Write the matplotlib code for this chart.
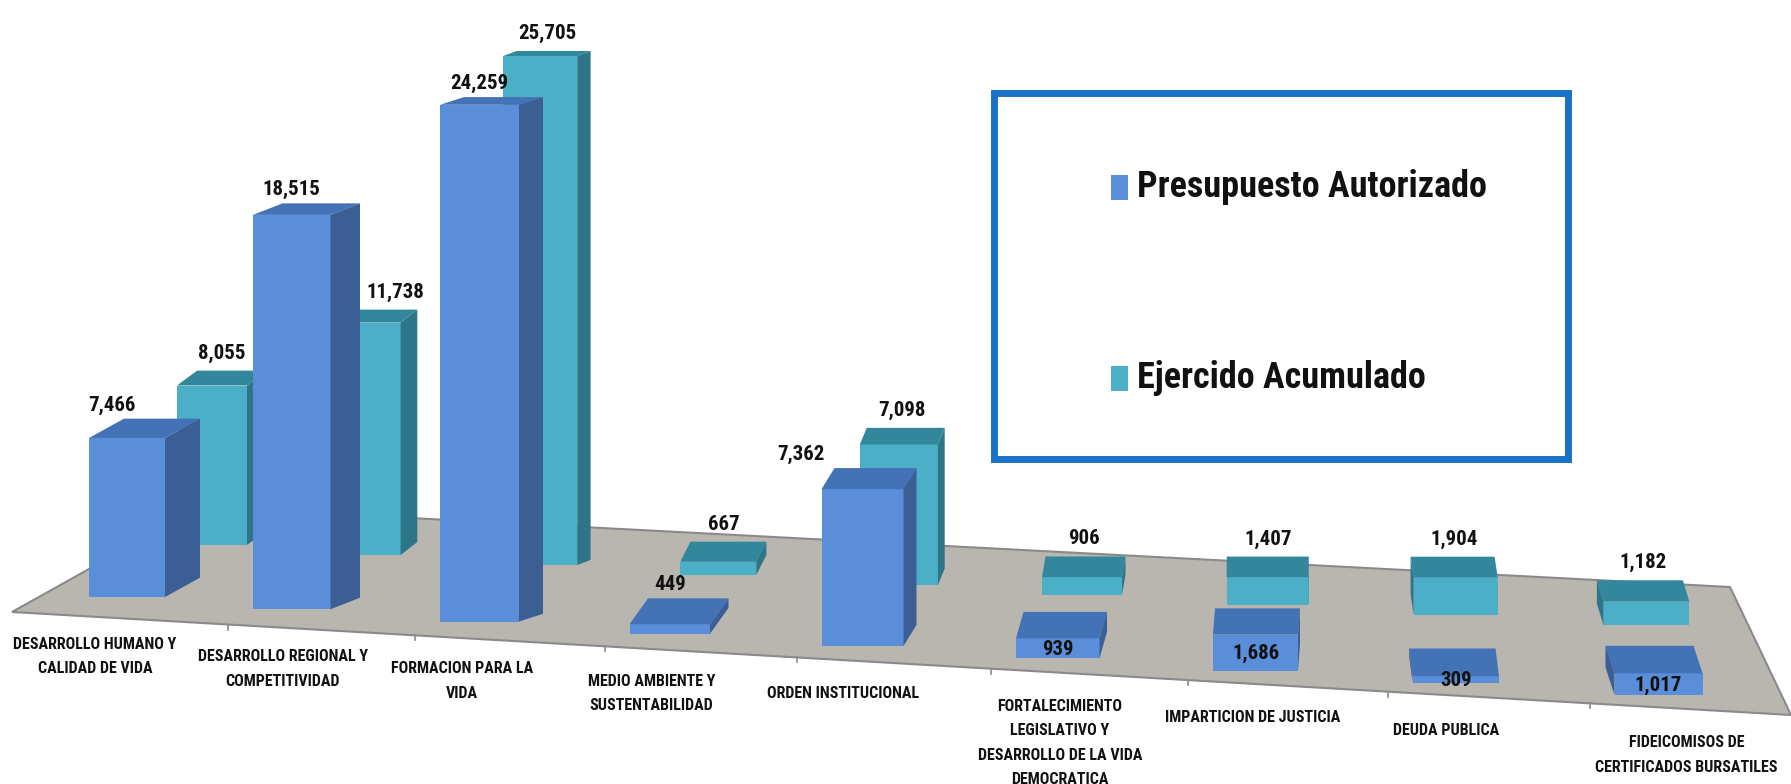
import matplotlib

matplotlib.use("Agg")
import matplotlib.pyplot as plt
import numpy as np
from matplotlib import font_manager
from matplotlib.patches import Polygon, Rectangle

categories = [
    "DESARROLLO HUMANO Y\nCALIDAD DE VIDA",
    "DESARROLLO REGIONAL Y\nCOMPETITIVIDAD",
    "FORMACION PARA LA\nVIDA",
    "MEDIO AMBIENTE Y\nSUSTENTABILIDAD",
    "ORDEN INSTITUCIONAL",
    "FORTALECIMIENTO\nLEGISLATIVO Y\nDESARROLLO DE LA VIDA\nDEMOCRATICA",
    "IMPARTICION DE JUSTICIA",
    "DEUDA PUBLICA",
    "FIDEICOMISOS DE\nCERTIFICADOS BURSATILES",
]
presupuesto = [7466, 18515, 24259, 449, 7362, 939, 1686, 309, 1017]
ejercido = [8055, 11738, 25705, 667, 7098, 906, 1407, 1904, 1182]
series_names = ["Presupuesto Autorizado", "Ejercido Acumulado"]

W, H = 1791, 784


def pick_font(candidates):
    names = {f.name for f in font_manager.fontManager.ttflist}
    for c in candidates:
        if c in names:
            return c
    return "DejaVu Sans"


FONT = pick_font(["Liberation Sans Narrow", "Roboto Condensed", "DejaVu Sans Condensed", "Liberation Sans"])

# fake 3D layout, screen pixels with y pointing down
FRONT = dict(base0=597, base_step=12.25, scale=0.0213, width0=76, width_step=1.5,
             side0=35, side_step=-5.5, depth_k=1.0,
             colors=("#5a8ed8", "#4472b6", "#3b5f95"))
BACK = dict(base0=545, base_step=10, scale=0.0198, width0=70, width_step=2.0,
            side0=20, side_step=-3.3, depth_k=0.85,
            colors=("#4bafc8", "#32879c", "#2e7587"))


def front_left(n):
    # perspective: category spacing widens slightly to the right
    steps = np.r_[0, 164, 187 + 2.5 * np.arange(n - 2)]
    return 89 + np.cumsum(steps)


def draw_series(ax, values, st, x_left, z, inside_from=None, gap=6, side_in_label=True, nudge=None):
    nudge = nudge or {}
    idx = np.arange(len(values))
    widths = st["width0"] + st["width_step"] * idx
    bases = st["base0"] + st["base_step"] * idx
    heights = np.asarray(values) * st["scale"]
    front_c, top_c, side_c = st["colors"]
    ax.bar(x_left, -heights, bottom=bases, width=widths, align="edge",
           color=front_c, linewidth=0, zorder=z)
    tops = bases - heights
    for i, v in enumerate(values):
        xl, xr = x_left[i], x_left[i] + widths[i]
        yt, yb = tops[i], bases[i]
        dy = st["depth_k"] * (4 + 0.035 * yt)
        dx = st["side0"] + st["side_step"] * i
        ax.add_patch(Polygon([(xl, yt), (xl + dx, yt - dy), (xr + dx, yt - dy), (xr, yt)],
                             closed=True, fc=top_c, lw=0, zorder=z))
        sx = xr if dx > 0 else xl
        ax.add_patch(Polygon([(sx, yt), (sx + dx, yt - dy), (sx + dx, yb - dy), (sx, yb)],
                             closed=True, fc=side_c, lw=0, zorder=z))
        txt = f"{v:,}"
        if inside_from is not None and i >= inside_from:
            ax.text((xl + xr) / 2, (yt + yb) / 2 + 1, txt, ha="center", va="center",
                    fontsize=15, fontweight="bold", family=FONT, color="#111111", zorder=10)
        else:
            lx = (xl + xr) / 2 + (dx / 2 if side_in_label else 0) + nudge.get(i, 0)
            ax.text(lx, yt - dy - gap, txt, ha="center", va="bottom",
                    fontsize=15, fontweight="bold", family=FONT, color="#111111", zorder=10)
    return widths


fig = plt.figure(figsize=(W / 100, H / 100), dpi=100)
ax = fig.add_axes([0, 0, 1, 1])
ax.set_xlim(0, W)
ax.set_ylim(H, 0)
ax.axis("off")

# floor
floor = [(12, 612), (200, 507), (1730, 587), (1791, 715)]
ax.add_patch(Polygon(floor, closed=True, fc="#b9b6b0", ec="#8a8a8a", lw=1.5, zorder=1))

n = len(categories)
idx = np.arange(n)
blue_x = front_left(n)
teal_x = blue_x + (88 - 12.4 * idx)

draw_series(ax, ejercido, BACK, teal_x, z=2, gap=8, nudge={1: 22})
draw_series(ax, presupuesto, FRONT, blue_x, z=3, inside_from=5, gap=4,
            side_in_label=False, nudge={0: -15, 4: -62})

# category labels (Excel shifts a few of them off the regular spacing)
label_nudge = {0: -16, 1: 8, 5: 22, 6: 18, 7: 12, 8: 50}
label_x = blue_x + 22 + np.array([label_nudge.get(i, 0) for i in idx])
for i, cat in enumerate(categories):
    nlines = cat.count("\n") + 1
    yc = 644 + 12.3 * i + (nlines - 1) * 25 / 2
    ax.text(label_x[i], yc, cat, ha="center", va="center", fontsize=11.5,
            fontweight="bold", family=FONT, color="#111111", linespacing=1.8)

# small ticks under the floor front edge
x0, y0 = floor[0]
x1, y1 = floor[3]
for b in (blue_x[1:] - 25):
    yb = y0 + (y1 - y0) * (b - x0) / (x1 - x0)
    ax.plot([b, b], [yb, yb + 5], color="#8a8a8a", lw=1.2, zorder=1)

# legend box
ax.add_patch(Rectangle((993.5, 92.5), 1571 - 993.5 - 3.5, 462 - 92.5 - 3.5, fill=False,
                       ec="#1a72c6", lw=5, zorder=4))
for name, color, yc in zip(series_names, (FRONT["colors"][0], BACK["colors"][0]), (187, 378)):
    ax.add_patch(Rectangle((1111, yc - 12), 17, 25, fc=color, lw=0, zorder=4))
    ax.text(1137, yc, name, ha="left", va="center", fontsize=26, fontweight="bold",
            family=FONT, color="#111111", zorder=4)

fig.savefig("out.png", dpi=100)
